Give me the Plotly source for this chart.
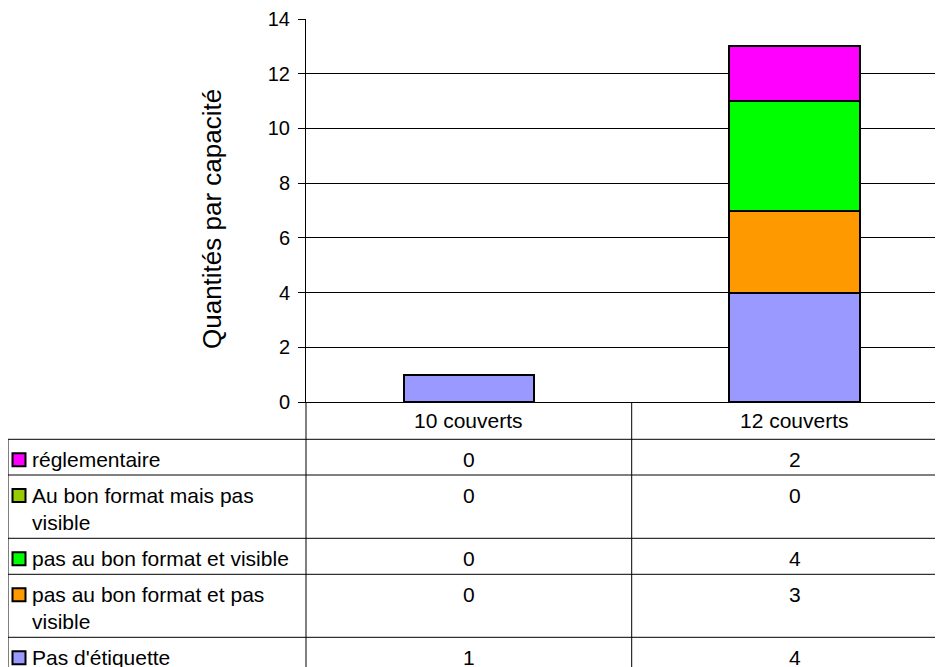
import plotly.graph_objects as go

categories = ["10 couverts", "12 couverts"]
series_names = [
    "réglementaire",
    "Au bon format mais pas visible",
    "pas au bon format et visible",
    "pas au bon format et pas visible",
    "Pas d'étiquette",
]
series_labels = [
    "réglementaire",
    "Au bon format mais pas<br>visible",
    "pas au bon format et visible",
    "pas au bon format et pas<br>visible",
    "Pas d'étiquette",
]
series_values = [
    [0, 2],
    [0, 0],
    [0, 4],
    [0, 3],
    [1, 4],
]
series_colors = ["#FF00FF", "#99CC00", "#00FF00", "#FF9900", "#9999FF"]
y_ticks = [0, 2, 4, 6, 8, 10, 12, 14]

W, H = 943, 667
OFF = 8  # page body margin offset
L = 306 - OFF
T = 19 - OFF
B = H - (402 - OFF)
R = 0
PW = W - L - R
PH = H - T - B
CAT_W = 325.7
FONT = "Arial, Liberation Sans, sans-serif"
TFS = 21


def px_x(p):
    # p: page pixel
    return (p - OFF - L) / PW


def px_y(p):
    return (H - B - (p - OFF)) / PH


fig = go.Figure()
xs = list(range(len(categories)))
for name, vals, col in reversed(list(zip(series_names, series_values, series_colors))):
    fig.add_trace(go.Bar(
        x=xs, y=vals, name=name, width=0.4,
        marker=dict(color=col, line=dict(color="black", width=2)),
        showlegend=False,
    ))

shapes = []
annotations = []

row_tops = [439.3, 475.0, 538.3, 574.3, 637.3]
for yp in row_tops:
    shapes.append(dict(type="line", xref="paper", yref="paper",
                       x0=px_x(8), x1=1.05, y0=px_y(yp), y1=px_y(yp),
                       line=dict(color="black", width=1)))
shapes.append(dict(type="line", xref="paper", yref="paper",
                   x0=px_x(8), x1=px_x(8), y0=px_y(439.3), y1=px_y(690),
                   line=dict(color="black", width=1)))
shapes.append(dict(type="line", xref="paper", yref="paper",
                   x0=0, x1=0, y0=0, y1=px_y(690),
                   line=dict(color="black", width=1)))
shapes.append(dict(type="line", xref="x", yref="paper",
                   x0=0.5, x1=0.5, y0=0, y1=px_y(690),
                   line=dict(color="black", width=1)))

for i, c in enumerate(categories):
    annotations.append(dict(x=i, y=px_y(420), xref="x", yref="paper",
                            text=c, showarrow=False, xanchor="center", yanchor="middle",
                            font=dict(family=FONT, size=TFS, color="black")))

for r, (lab, vals, col) in enumerate(zip(series_labels, series_values, series_colors)):
    top = row_tops[r]
    cy = top + 20.5
    shapes.append(dict(type="rect", xref="paper", yref="paper",
                       x0=px_x(12.5), x1=px_x(25.5), y0=px_y(cy - 6.5), y1=px_y(cy + 6.5),
                       fillcolor=col, line=dict(color="black", width=2)))
    annotations.append(dict(x=px_x(30), y=px_y(cy - 13.5), xref="paper", yref="paper",
                            text=lab, showarrow=False, xanchor="left", yanchor="top",
                            align="left",
                            font=dict(family=FONT, size=TFS, color="black")))
    for i, v in enumerate(vals):
        annotations.append(dict(x=i, y=px_y(cy - 13.5), xref="x", yref="paper",
                                text=str(v), showarrow=False, xanchor="center", yanchor="top",
                                font=dict(family=FONT, size=TFS, color="black")))

annotations.append(dict(x=px_x(212), y=px_y(219), xref="paper", yref="paper",
                        text="Quantités par capacité", showarrow=False, textangle=-90,
                        xanchor="center", yanchor="middle",
                        font=dict(family=FONT, size=26, color="black")))

fig.update_layout(
    width=W, height=H,
    margin=dict(l=L, r=R, t=T, b=B, pad=0),
    barmode="stack",
    plot_bgcolor="white", paper_bgcolor="white",
    shapes=shapes, annotations=annotations,
    xaxis=dict(range=[-0.5, -0.5 + PW / CAT_W], showticklabels=False, ticks="",
               showgrid=False, zeroline=False, showline=True, linecolor="black",
               linewidth=1, fixedrange=True),
    yaxis=dict(range=[0, 14], tickvals=y_ticks, ticktext=[str(t) for t in y_ticks],
               ticks="outside", ticklen=7, tickcolor="black", showline=True,
               linecolor="black", linewidth=1, showgrid=True, gridcolor="black",
               gridwidth=1, zeroline=False, ticklabelstandoff=4,
               tickfont=dict(family=FONT, size=20, color="black")),
    showlegend=False,
)

fig.write_html("out.html")
